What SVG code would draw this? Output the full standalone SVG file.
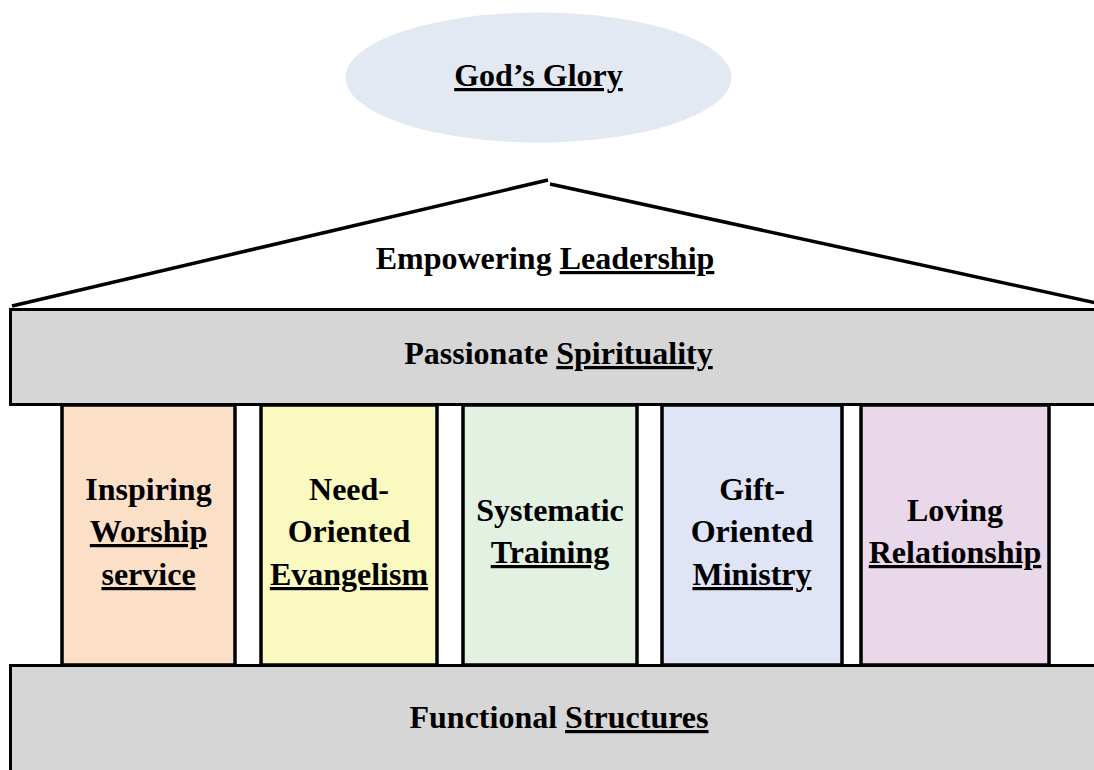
<svg xmlns="http://www.w3.org/2000/svg" width="1094" height="770" viewBox="0 0 1094 770">
<style>
.t{font-family:"Liberation Serif","Times New Roman",serif;font-weight:bold;font-size:32px;fill:#000;text-anchor:middle}
.u{text-decoration:underline}
.band{fill:#d6d6d6;stroke:#000;stroke-width:3}
.col{stroke:#000;stroke-width:3.5}
.roof{fill:none;stroke:#000;stroke-width:3.5}
</style>
<rect width="1094" height="770" fill="#fff"/>
<g id="glory">
<ellipse cx="538.5" cy="77.5" rx="193" ry="65" fill="#e2e9f3"/>
<text class="t u" x="538.5" y="86">God’s Glory</text>
</g>
<g id="leadership">
<line class="roof" x1="12" y1="306" x2="548" y2="180"/>
<line class="roof" x1="550" y1="184" x2="1096" y2="303"/>
<text class="t" x="545" y="269">Empowering <tspan class="u">Leadership</tspan></text>
</g>
<g id="col1">
<rect class="col" x="62" y="405" width="173" height="260" fill="#fbdfc7"/>
<text class="t" x="148.5" y="500">Inspiring</text>
<text class="t u" x="148.5" y="542">Worship</text>
<text class="t u" x="148.5" y="585">service</text>
</g>
<g id="col2">
<rect class="col" x="261" y="405" width="176" height="260" fill="#f9f9c0"/>
<text class="t" x="349" y="500">Need-</text>
<text class="t" x="349" y="542">Oriented</text>
<text class="t u" x="349" y="585">Evangelism</text>
</g>
<g id="col3">
<rect class="col" x="463" y="405" width="174" height="260" fill="#e2f1e1"/>
<text class="t" x="550" y="521">Systematic</text>
<text class="t u" x="550" y="563">Training</text>
</g>
<g id="col4">
<rect class="col" x="662" y="405" width="180" height="260" fill="#dfe4f6"/>
<text class="t" x="752" y="500">Gift-</text>
<text class="t" x="752" y="542">Oriented</text>
<text class="t u" x="752" y="585">Ministry</text>
</g>
<g id="col5">
<rect class="col" x="861" y="405" width="188" height="260" fill="#e9d8ea"/>
<text class="t" x="955" y="521">Loving</text>
<text class="t u" x="955" y="563">Relationship</text>
</g>
<g id="spirituality">
<rect class="band" x="10.5" y="309.5" width="1100" height="95"/>
<text class="t" x="558.5" y="364">Passionate <tspan class="u">Spirituality</tspan></text>
</g>
<g id="structures">
<rect class="band" x="10.5" y="665.5" width="1100" height="120"/>
<text class="t" x="559" y="728">Functional <tspan class="u">Structures</tspan></text>
</g>
<g id="connectors"></g>
</svg>
